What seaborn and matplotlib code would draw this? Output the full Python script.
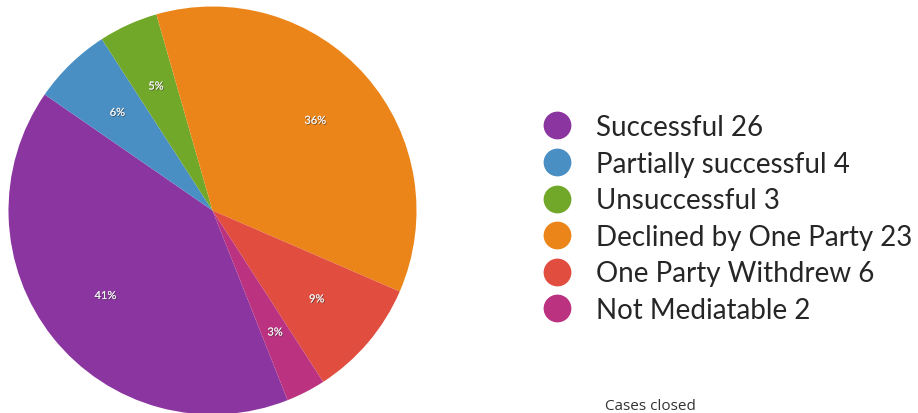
import matplotlib
matplotlib.use("Agg")
import matplotlib.pyplot as plt
import matplotlib.patheffects as pe
from matplotlib.lines import Line2D
import seaborn as sns

categories = ["Successful", "Partially successful", "Unsuccessful",
              "Declined by One Party", "One Party Withdrew", "Not Mediatable"]
counts = [26, 4, 3, 23, 6, 2]
colors = ["#8B35A0", "#4A8FC4", "#72A829", "#EC8519", "#E14E3F", "#BA3280"]
footer = "Cases closed"

sns.set_theme(style="white")
plt.rcParams["font.family"] = ["Lato", "DejaVu Sans"]

W, H = 918, 414
fig = plt.figure(figsize=(W / 100, H / 100), dpi=100)
fig.patch.set_facecolor("white")

cx, cy, r = 212.5, 211.5, 204
ax = fig.add_axes([(cx - r) / W, (H - cy - r) / H, 2 * r / W, 2 * r / H])

palette = sns.color_palette(colors)
wedges, texts, autotexts = ax.pie(
    counts, colors=palette, startangle=291.6, counterclock=False,
    radius=1, autopct=lambda p: f"{p:.0f}%", pctdistance=0.67,
    wedgeprops=dict(linewidth=0),
    textprops=dict(color="#f4f4f4", fontsize=8))
ax.set_xlim(-1, 1)
ax.set_ylim(-1, 1)
ax.set_aspect("equal")
ax.axis("off")
for t in autotexts:
    t.set_path_effects([pe.withSimplePatchShadow(offset=(0.6, -0.6),
                                                  shadow_rgbFace="#333333",
                                                  alpha=0.7), pe.Normal()])

handles = [Line2D([0], [0], marker="o", linestyle="none", markersize=20,
                  markerfacecolor=c, markeredgewidth=0) for c in palette]
labels = [f"{c} {n}" for c, n in zip(categories, counts)]
fig.legend(handles, labels, loc="center left",
           bbox_to_anchor=(540 / W, 1 - 219.5 / H), frameon=False,
           fontsize=20, labelspacing=0.38, handlelength=1.2,
           handletextpad=0.83, borderpad=0, borderaxespad=0)

fig.text(605 / W, 1 - 410 / H, footer, fontsize=11, color="#333333",
         family=["Open Sans", "DejaVu Sans"], ha="left", va="baseline")

fig.savefig("out.png", dpi=100, facecolor="white")
